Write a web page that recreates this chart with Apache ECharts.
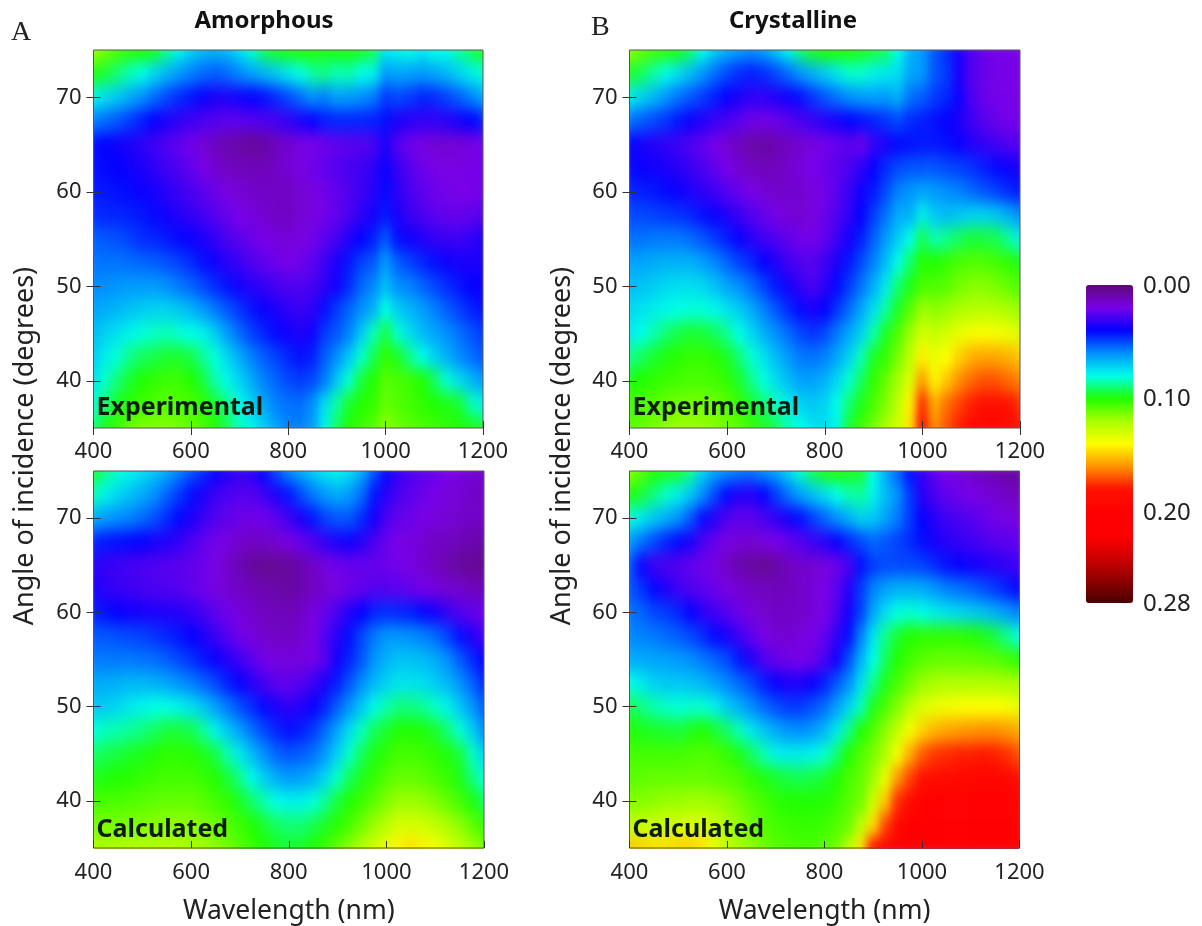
<!DOCTYPE html>
<html><head><meta charset="utf-8">
<style>html,body{margin:0;padding:0;background:#fff}#c{width:1202px;height:926px}</style>
<script src="https://cdn.jsdelivr.net/npm/echarts@6/dist/echarts.min.js"></script>
</head><body>
<svg width="0" height="0" style="position:absolute"><filter id="soft" x="0" y="0" width="100%" height="100%" color-interpolation-filters="sRGB"><feGaussianBlur in="SourceGraphic" stdDeviation="4 8" result="b"/><feMerge><feMergeNode in="SourceGraphic"/><feMergeNode in="b"/></feMerge></filter></svg>
<div id="c"></div>
<script>
const wavelengths=[400,425,450,475,500,525,550,575,600,625,650,675,700,725,750,775,800,825,850,875,900,925,950,975,1000,1025,1050,1075,1100,1125,1150,1175,1200];
const angles=[75,72.5,70,67.5,65,62.5,60,57.5,55,52.5,50,47.5,45,42.5,40,37.5,35];
const xTicks=[400,600,800,1000,1200];
const yTicks=[40,50,60,70];
const scaleTicks=[0,0.1,0.2,0.28];
const titles=["Amorphous","Crystalline"];
const panelLetters=["A","B"];
const panelTags=["Experimental","Calculated"];
// values in units of 0.001, one row per angle, top row = 75 degrees
const amorphousExperimental=[
[118,112,106,102,100,97,88,79,72,68,66,68,74,82,92,97,99,100,100,98,99,99,97,93,76,78,80,76,80,80,86,92,98],
[99,95,90,84,80,73,67,62,58,55,53,55,59,63,67,71,76,80,86,88,84,85,80,78,62,64,63,62,64,67,72,77,82],
[78,74,70,65,60,55,50,46,43,39,36,36,38,40,42,46,50,55,60,58,63,62,60,57,48,50,48,45,46,49,53,58,64],
[58,55,52,48,44,40,36,33,30,28,26,25,25,26,27,29,32,36,40,44,45,45,45,44,42,36,34,32,32,34,37,40,44],
[41,40,38,36,33,30,27,24,21,17,13,10,8,6,8,12,16,18,20,22,24,25,26,28,36,26,22,19,17,16,17,19,21],
[42,41,40,38,36,33,30,27,24,20,16,13,12,12,12,14,17,19,22,24,26,28,30,33,39,31,26,22,20,19,19,20,21],
[43,43,42,41,39,37,34,31,28,25,22,19,17,15,14,14,14,16,18,21,24,27,30,34,41,33,28,25,22,21,20,20,21],
[46,45,45,44,43,41,38,35,32,29,26,23,20,18,16,14,14,16,18,21,24,28,33,37,43,36,31,28,25,24,23,24,26],
[53,52,51,49,46,45,43,41,39,36,32,28,25,22,20,18,17,19,21,25,29,35,40,44,52,42,38,35,32,31,30,32,35],
[56,56,56,55,54,53,51,49,46,42,38,34,31,27,24,22,20,22,25,30,36,43,49,52,62,53,49,45,42,39,37,36,37],
[59,60,61,62,62,62,60,57,54,50,46,42,38,34,32,29,27,27,29,33,38,46,54,59,68,60,58,54,50,46,43,40,39],
[64,65,67,69,71,72,72,70,67,62,57,52,47,43,39,36,33,31,33,42,48,54,60,66,80,71,67,63,58,53,49,45,42],
[68,72,75,78,81,83,84,82,80,78,71,62,55,49,45,41,38,36,38,48,52,58,70,84,94,82,74,68,64,60,56,52,48],
[71,77,82,88,92,94,96,96,94,87,81,73,65,58,53,49,45,42,44,53,60,70,82,93,102,97,88,80,72,66,60,56,52],
[75,83,90,96,100,102,104,104,100,95,85,79,72,65,58,54,50,48,50,57,70,82,95,100,108,106,104,100,92,82,74,68,62],
[82,90,97,101,104,107,108,107,106,102,96,88,79,72,64,58,56,55,60,74,86,96,100,103,110,107,105,102,100,98,96,85,78],
[90,98,104,110,114,114,114,112,110,106,100,93,84,78,71,64,58,58,62,78,92,100,104,107,116,111,108,106,104,102,100,98,96]];
const amorphousCalculated=[
[96,88,82,78,74,70,65,58,52,46,40,35,32,34,41,50,59,65,71,76,78,74,65,52,41,32,28,25,23,20,18,16,15],
[84,78,73,69,65,60,54,48,42,36,31,28,26,26,30,36,43,50,57,62,65,62,55,43,34,28,25,22,20,18,16,15,14],
[66,62,60,58,55,51,46,41,36,31,27,24,22,21,22,25,30,36,43,49,52,52,46,37,28,24,22,20,18,17,15,14,14],
[45,43,42,41,40,37,35,32,28,24,21,18,15,14,14,16,19,23,27,32,36,38,34,28,23,20,18,16,14,13,11,10,9],
[34,32,30,29,28,27,26,25,24,22,19,15,11,6,5,5,6,10,14,18,22,23,23,23,22,21,19,16,13,10,7,5,4],
[36,33,31,30,29,28,27,26,24,22,18,16,14,12,10,9,8,10,13,16,19,22,24,26,26,25,23,21,18,16,15,13,12],
[44,42,40,38,37,36,35,34,32,29,25,21,18,15,13,12,12,14,18,23,29,35,40,45,46,45,44,41,37,32,27,24,22],
[52,52,51,50,49,47,45,43,40,36,31,26,21,18,15,14,14,16,20,27,34,42,50,57,61,61,60,58,55,49,42,35,29],
[57,57,57,57,56,55,53,50,47,43,39,35,30,25,21,18,18,18,21,26,38,45,52,61,66,69,69,68,65,60,53,46,39],
[65,65,66,67,67,66,64,61,58,54,50,44,39,34,29,25,24,26,31,36,44,52,60,67,72,75,75,74,71,67,61,54,46],
[70,71,73,76,78,80,80,78,75,70,63,57,51,46,41,36,33,35,39,45,53,61,70,79,85,89,89,87,83,78,70,62,53],
[81,84,85,87,89,92,95,95,93,87,78,70,63,56,50,45,42,44,48,55,64,74,84,92,96,100,100,99,96,90,82,72,60],
[91,93,95,97,98,100,102,102,101,98,94,85,76,68,60,54,52,53,56,62,72,83,92,98,102,105,105,104,102,99,95,84,72],
[98,99,100,101,103,104,105,105,105,103,100,95,88,79,71,65,62,63,66,73,83,92,98,103,107,110,110,109,106,103,98,90,81],
[105,106,106,107,108,109,110,110,110,108,105,102,97,91,85,80,78,78,81,87,95,100,104,109,114,118,118,117,114,110,105,99,92],
[113,113,113,114,114,115,116,116,116,114,111,108,104,100,96,92,90,90,93,97,101,106,112,118,124,130,131,129,126,121,116,110,103],
[122,122,123,123,123,123,123,122,121,119,116,112,108,104,100,97,96,97,100,104,110,116,124,130,136,142,145,142,138,132,126,120,114]];
const crystallineExperimental=[
[115,110,105,102,98,91,80,71,66,62,60,63,70,78,90,97,100,100,100,98,95,92,80,66,62,52,46,36,27,23,21,20,19],
[97,92,86,80,74,68,61,55,50,46,44,46,50,55,61,66,71,76,82,82,78,76,74,64,62,52,48,36,27,23,21,20,19],
[76,72,67,61,56,52,48,44,40,36,33,33,35,38,42,47,52,56,60,62,63,62,66,56,53,48,45,38,28,23,21,20,19],
[56,53,50,47,43,39,35,31,28,25,22,21,22,25,28,31,34,37,40,42,44,47,50,46,44,42,40,36,30,26,23,21,20],
[40,37,34,32,30,27,24,20,16,12,9,8,10,13,16,18,21,23,25,22,31,36,41,42,43,43,42,39,35,32,30,27,26],
[41,39,38,36,34,31,28,24,20,16,13,12,13,15,18,20,22,25,28,33,40,46,50,52,52,52,50,49,47,44,41,39,36],
[45,44,43,41,39,36,33,30,26,23,20,17,15,15,16,18,21,25,31,38,43,50,58,61,64,62,60,58,55,52,49,46,43],
[50,50,49,48,47,45,42,39,35,31,27,23,20,17,16,18,22,27,33,40,48,56,65,66,77,70,68,70,72,72,70,66,60],
[56,56,57,57,57,55,52,48,44,39,34,30,27,24,21,21,24,30,37,44,53,62,71,80,93,85,88,92,95,95,93,87,78],
[63,64,65,66,66,66,63,59,54,49,45,40,35,30,27,26,30,36,43,50,58,68,80,91,100,100,103,106,107,107,105,102,98],
[68,69,71,73,74,74,73,69,64,60,55,49,43,37,32,28,33,41,48,56,65,76,90,98,106,106,108,112,115,115,113,110,107],
[73,75,77,79,80,81,81,79,75,71,65,58,52,46,41,37,40,47,55,64,74,86,97,108,118,116,118,121,123,124,123,121,118],
[76,80,85,90,94,96,95,92,87,80,73,66,60,55,50,47,50,57,64,72,85,97,107,118,130,127,130,135,138,139,138,136,132],
[88,92,96,99,101,103,103,101,97,90,82,75,68,62,57,56,58,64,72,84,97,103,113,125,142,135,140,148,154,156,156,154,150],
[98,100,102,104,105,106,106,105,102,96,88,81,74,68,63,63,66,73,82,92,102,110,120,132,158,142,150,160,166,170,170,166,162],
[104,106,108,110,112,112,112,111,108,103,96,90,83,77,72,70,72,80,90,98,106,114,125,142,176,155,165,172,178,184,184,180,175],
[108,110,113,116,118,118,117,115,112,108,103,98,93,85,80,75,74,78,96,104,112,120,130,145,186,160,170,178,186,194,196,188,180]];
const crystallineCalculated=[
[116,108,100,98,96,88,72,64,60,57,56,60,64,72,82,92,98,100,98,96,80,65,54,42,32,24,20,18,15,12,10,8,7],
[99,95,89,83,77,70,60,50,41,35,35,40,48,56,63,69,74,80,85,87,78,68,60,48,34,28,24,22,20,18,16,14,12],
[82,76,70,66,60,52,42,34,27,24,25,28,32,37,42,48,54,60,66,72,70,64,57,48,40,34,30,28,26,23,21,19,18],
[62,56,50,45,41,36,28,23,19,17,16,18,20,23,26,30,34,39,45,50,54,52,49,46,42,37,34,32,30,28,26,25,24],
[52,38,30,28,26,24,22,18,14,10,7,5,8,12,15,16,18,22,28,42,48,50,50,50,49,46,42,40,38,36,34,32,30],
[52,47,41,35,30,27,25,22,19,16,14,13,12,13,15,17,20,25,34,48,58,63,66,66,65,62,58,56,54,51,48,44,40],
[56,54,50,48,45,40,34,30,26,22,18,15,14,14,15,17,20,27,37,49,64,74,80,82,80,77,75,73,71,69,66,62,58],
[59,58,57,55,53,50,46,41,36,30,25,20,17,16,18,20,24,32,42,58,75,88,96,100,102,102,102,102,101,98,94,88,80],
[65,65,64,63,62,60,57,54,50,43,35,28,23,21,20,22,28,38,51,66,80,92,100,105,108,110,110,110,110,109,108,105,101],
[80,76,72,70,70,69,67,63,59,55,50,44,39,36,36,39,44,52,60,74,88,98,106,112,118,120,122,122,122,122,122,121,120],
[93,89,85,83,81,82,82,78,71,66,60,55,51,48,48,51,55,63,72,84,98,106,115,124,132,135,137,139,140,140,140,138,135],
[100,98,97,96,95,98,100,96,91,84,76,70,65,61,60,62,67,76,88,100,107,116,126,138,148,153,156,158,159,160,160,158,155],
[105,105,105,105,105,106,107,106,103,98,92,85,78,77,77,78,82,90,100,107,113,122,138,155,168,174,176,178,178,179,178,175,170],
[108,109,110,110,110,110,110,109,108,106,102,99,96,94,93,94,96,100,106,110,118,135,158,172,180,184,188,190,191,192,192,190,186],
[114,115,116,118,118,119,119,118,116,112,108,105,102,100,100,100,100,103,108,112,128,150,176,188,197,200,203,205,206,206,205,203,200],
[126,127,128,129,130,132,132,128,122,117,112,108,105,104,103,103,104,107,111,124,146,172,190,200,206,208,210,210,210,210,210,208,206],
[150,148,146,146,148,148,145,135,125,120,116,112,108,107,106,106,108,112,126,145,185,196,204,208,212,212,212,212,212,212,212,212,210]];
const scaleColors=["#5e0a78","#7800e8","#0400ff","#0090ff","#00ffe8","#20ff00","#a8ff00","#ffff00","#ff9000","#ff1000","#ff0000","#ff0000","#d00000","#900000","#4a0000"];

const font="Noto Sans", ink="#222";
const panels=[
 {values:amorphousExperimental,tag:0,col:0,L:93.5,T:50,W:389.5,H:378},
 {values:amorphousCalculated,tag:1,col:0,L:93.5,T:471,W:390.5,H:378},
 {values:crystallineExperimental,tag:0,col:1,L:629.5,T:50,W:390.5,H:378},
 {values:crystallineCalculated,tag:1,col:1,L:629.5,T:471,W:390,H:378}];
const grid=[],xAxis=[],yAxis=[],series=[],texts=[];
const tick={lineStyle:{color:"#333",width:1},length:7};
const label={fontFamily:font,fontSize:22,color:ink};
panels.forEach((p,i)=>{
  p.values.forEach((r,j)=>{if(r.length!==wavelengths.length)throw new Error("panel "+i+" row "+j+" len "+r.length)});
  const cw=p.W/(wavelengths.length-1),ch=p.H/(angles.length-1);
  const g=grid.length;
  grid.push({left:p.L-cw/2,top:p.T-ch/2,width:p.W+cw,height:p.H+ch,show:false});
  grid.push({left:p.L,top:p.T,width:p.W,height:p.H,show:true,borderColor:"#555",borderWidth:1,backgroundColor:"transparent",zlevel:1});
  const ax=xAxis.length,ay=yAxis.length;
  xAxis.push({type:"category",gridIndex:g,data:wavelengths.map(String),show:false,zlevel:1});
  yAxis.push({type:"category",gridIndex:g,data:angles.map(String),inverse:true,show:false,zlevel:1});
  const isBottom=p.tag===1;
  xAxis.push({type:"value",gridIndex:g+1,position:"bottom",min:400,max:1200,interval:200,zlevel:1,splitLine:{show:false},axisLine:{show:false},
    axisTick:{show:!isBottom,...tick,customValues:xTicks},axisLabel:{...label,margin:isBottom?14:13,customValues:xTicks,formatter:v=>String(v)},
    name:isBottom?"Wavelength (nm)":"",nameLocation:"middle",nameGap:50,nameTextStyle:{fontFamily:font,fontSize:26.5,color:ink}});
  xAxis.push({type:"value",gridIndex:g+1,position:"bottom",min:400,max:1200,interval:200,zlevel:1,splitLine:{show:false},axisLine:{show:false},
    axisLabel:{show:false},axisTick:{inside:true,...tick,customValues:xTicks}});
  yAxis.push({type:"value",gridIndex:g+1,position:"left",min:35,max:75,interval:5,zlevel:1,splitLine:{show:false},axisLine:{show:false},
    axisTick:{...tick,customValues:yTicks},axisLabel:{...label,margin:12,customValues:yTicks}});
  yAxis.push({type:"value",gridIndex:g+1,position:"left",min:35,max:75,interval:5,zlevel:1,splitLine:{show:false},axisLine:{show:false},
    axisLabel:{show:false},axisTick:{inside:true,...tick,customValues:yTicks}});
  const data=[];
  p.values.forEach((r,j)=>r.forEach((v,k)=>data.push([k,j,v/1000])));
  series.push({type:"heatmap",xAxisIndex:ax,yAxisIndex:ay,data,zlevel:0,progressive:0,animation:false,silent:true,itemStyle:{borderWidth:0}});
  texts.push({type:"text",zlevel:1,left:p.L+3,top:p.T+p.H-(isBottom?32:33),style:{text:panelTags[p.tag],fontFamily:font,fontSize:25,fontWeight:"bold",fill:"#0c1c0c"}});
});
// colour scale axis
const cbg=grid.length;
grid.push({left:1086,top:286,width:47,height:318,show:false});
xAxis.push({type:"value",gridIndex:cbg,show:false});
yAxis.push({type:"value",gridIndex:cbg,min:0,max:0.28,inverse:true,position:"right",zlevel:1,splitLine:{show:false},axisLine:{show:false},axisTick:{show:false},
  axisLabel:{...label,fontSize:24,margin:10,customValues:scaleTicks,formatter:v=>v.toFixed(2)}});
// titles, letters, y names
[[264,21],[793,21]].forEach((c,i)=>texts.push({type:"text",zlevel:1,x:c[0],y:c[1],style:{text:titles[i],fontFamily:font,fontSize:24,fontWeight:"bold",fill:"#111",textAlign:"center",textVerticalAlign:"middle"}}));
[[11,33],[591,28]].forEach((c,i)=>texts.push({type:"text",zlevel:1,x:c[0],y:c[1],style:{text:panelLetters[i],fontFamily:"Liberation Serif",fontSize:28,fill:"#222",textVerticalAlign:"middle"}}));
[25,562].forEach(x=>texts.push({type:"text",zlevel:1,x:x,y:446,rotation:Math.PI/2,style:{text:"Angle of incidence (degrees)",fontFamily:font,fontSize:27,fill:ink,textAlign:"center",textVerticalAlign:"middle"}}));

const chart=echarts.init(document.getElementById("c"),null,{renderer:"canvas"});
chart.setOption({animation:false,backgroundColor:"#fff",tooltip:{show:false},grid,xAxis,yAxis,series,
  visualMap:{type:"continuous",min:0,max:0.28,dimension:2,inverse:true,left:1086,top:285,itemWidth:47,itemHeight:318,padding:0,calculable:false,hoverLink:false,text:["",""],showLabel:false,zlevel:1,seriesIndex:[0,1,2,3],inRange:{color:scaleColors}},
  graphic:{elements:texts}});
// soften the heatmap layer only (axes and text sit on their own zlevel canvas)
const clip=panels.map(p=>`M${p.L} ${p.T}H${p.L+p.W}V${p.T+p.H}H${p.L}Z`).join("");
const base=document.querySelector('canvas[data-zr-dom-id="zr_0"]');
if(base){base.style.filter="url(#soft)";base.style.clipPath=`path("${clip}")`;}
</script>
</body></html>
